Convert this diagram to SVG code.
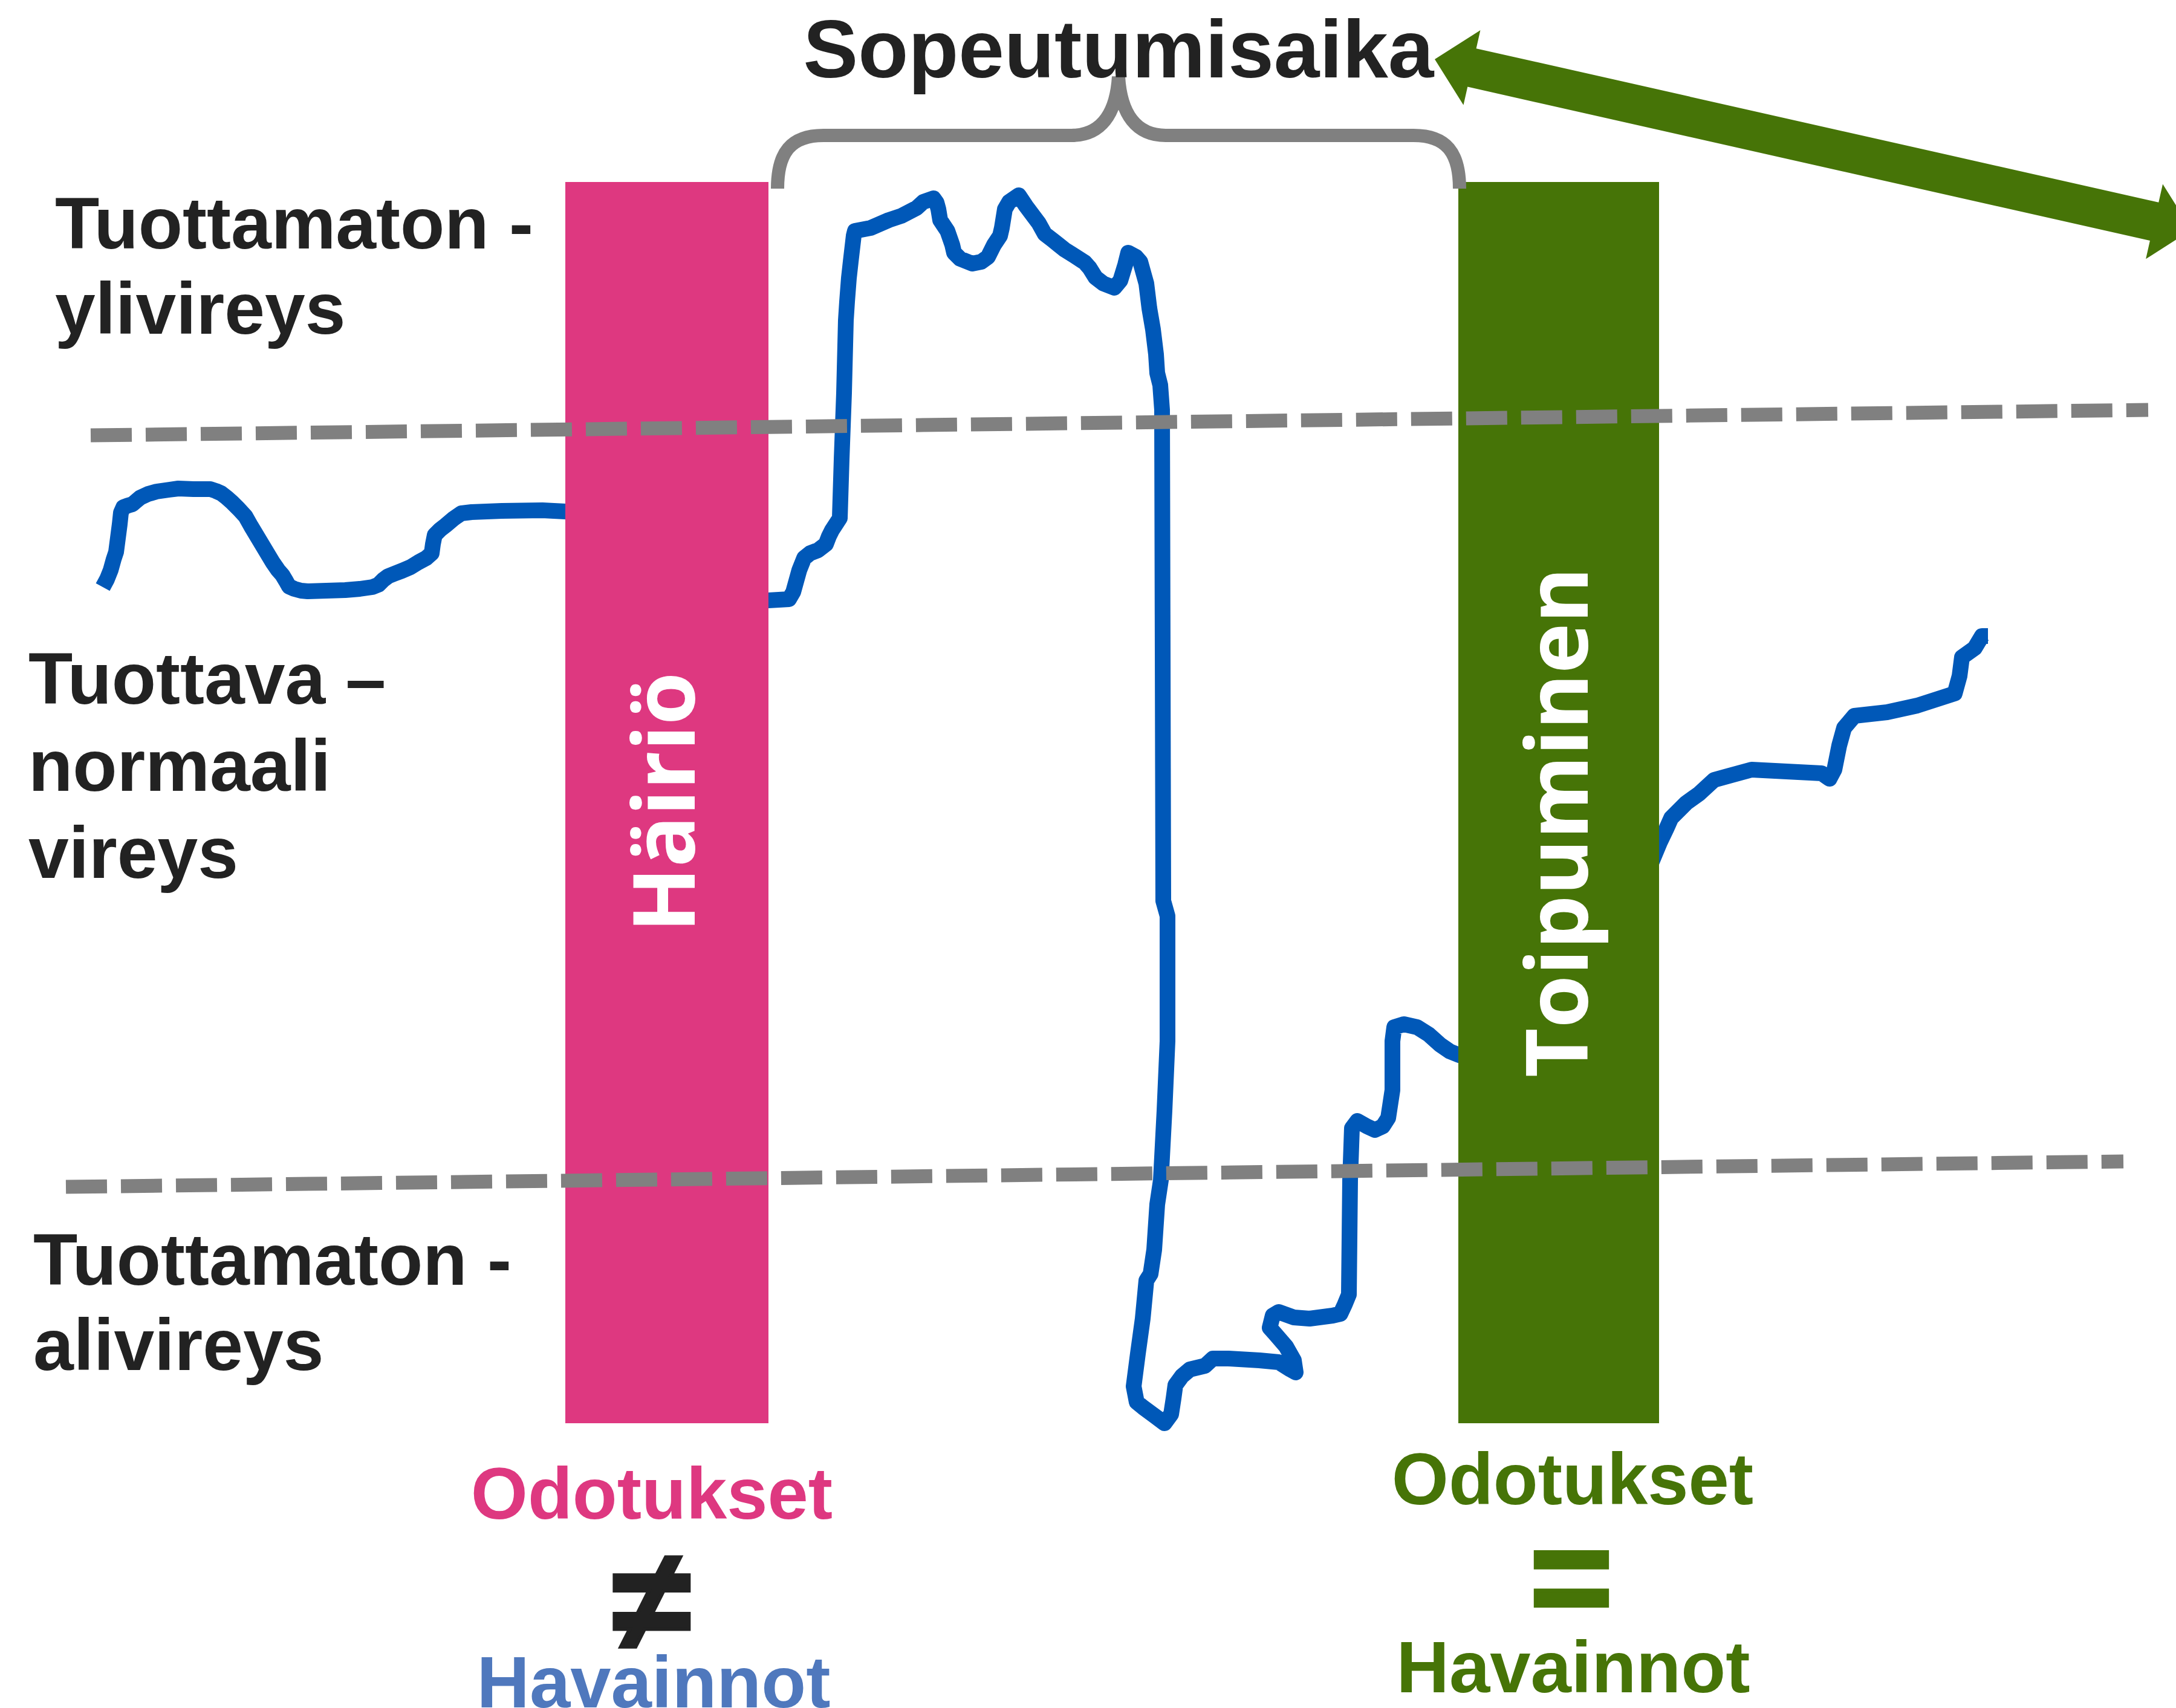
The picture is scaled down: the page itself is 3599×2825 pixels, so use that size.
<svg xmlns="http://www.w3.org/2000/svg" width="3599" height="2825" viewBox="0 0 3599 2825">
<style>
  .lbl{font-family:"Liberation Sans",Arial,sans-serif;font-weight:bold;font-size:120px;fill:#222222}
  .bartxt{font-family:"Open Sans","Liberation Sans",sans-serif;font-weight:bold;font-size:141px;fill:#ffffff;text-anchor:middle}
  .bot{font-family:"Liberation Sans",Arial,sans-serif;font-weight:bold;font-size:121px;text-anchor:middle}
  .sym{font-family:"Liberation Sans",Arial,sans-serif;font-weight:bold;font-size:236px;text-anchor:middle;stroke-width:6}
  .blue{fill:none;stroke:#0058B8;stroke-width:26;stroke-linejoin:round;stroke-linecap:butt}
  .dash{fill:none;stroke:#808080;stroke-width:23;stroke-dasharray:68 23}
</style>
<rect width="3599" height="2825" fill="#ffffff"/>

<g id="curve">
  <polyline class="blue" points="170,971 177,958 183,943 188,925 192,913 195,890 198,867 200,848 204,839 212,836 219,834 226,828 232,823 245,817 259,813 280,810 295,808 320,809 348,809 357,812 366,816 375,823 384,831 395,842 406,854 415,870 424,885 433,900 442,915 451,930 460,943 467,951 473,961 478,970 487,974 498,977 509,978 540,977 571,976 595,974 616,971 626,967 634,959 642,953 652,949 665,944 679,938 692,930 705,923 714,915 716,900 719,885 728,876 737,869 750,858 763,849 780,847 830,845 897,844 935,846 965,849"/>
  <polyline class="blue" points="1240,994 1271,993 1305,991 1312,979 1322,943 1330,923 1340,915 1353,910 1366,900 1371,887 1376,877 1389,857 1392,760 1396,650 1399,530 1401,499 1404,460 1407,433 1412,390 1414,382 1440,377 1470,364 1491,357 1516,344 1527,334 1544,328 1549,335 1552,346 1555,364 1567,382 1575,405 1578,418 1588,428 1608,436 1623,433 1634,425 1644,405 1654,390 1657,377 1662,346 1669,334 1685,323 1697,341 1718,369 1728,387 1741,397 1751,405 1761,413 1777,423 1794,434 1802,443 1812,459 1825,469 1843,476 1853,464 1861,438 1866,418 1879,425 1886,433 1896,469 1901,510 1907,545 1912,586 1914,617 1919,637 1922,678 1923,1080 1924,1490 1931,1515 1931,1722 1926,1837 1920,1952 1914,1992 1909,2067 1903,2107 1896,2118 1890,2181 1882,2239 1875,2293 1880,2319 1891,2328 1910,2342 1926,2354 1937,2339 1941,2313 1944,2291 1955,2276 1968,2265 1993,2259 2006,2247 2032,2247 2083,2250 2115,2253 2134,2265 2143,2270 2140,2250 2127,2227 2108,2205 2100,2196 2105,2176 2115,2170 2140,2179 2166,2181 2204,2176 2217,2173 2224,2158 2231,2141 2233,1952 2236,1866 2245,1854 2261,1863 2274,1869 2287,1863 2296,1849 2303,1803 2303,1722 2306,1699 2322,1694 2344,1699 2363,1711 2382,1728 2398,1739 2413,1745 2445,1752"/>
  <polyline class="blue" points="2730,1430 2745,1394 2756,1371 2764,1353 2789,1328 2810,1313 2835,1290 2864,1282 2897,1273 3013,1279 3026,1288 3034,1273 3042,1233 3050,1204 3067,1184 3121,1178 3171,1167 3233,1147 3241,1118 3245,1087 3266,1072 3278,1052 3288,1052"/>
</g>

<g id="node-hairio">
  <rect x="935" y="301" width="336" height="2053" fill="#DE3880"/>
  <text class="bartxt" transform="translate(1149 1327) rotate(-90)">Häiriö</text>
</g>
<g id="node-toipuminen">
  <rect x="2412" y="301" width="332" height="2053" fill="#467407"/>
  <text class="bartxt" transform="translate(2626 1360) rotate(-90)">Toipuminen</text>
</g>

<g id="thresholds">
  <line class="dash" x1="150" y1="720" x2="3553" y2="678"/>
  <line class="dash" x1="109" y1="1963" x2="3512" y2="1921"/>
</g>

<g id="connectors">
  <path id="brace" d="M1286 312 C1286 252 1308 224 1362 224 L1772 224 C1820 224 1846 190 1850 127 C1854 190 1880 224 1928 224 L2338 224 C2392 224 2414 252 2414 312" fill="none" stroke="#808080" stroke-width="22"/>
  <polygon id="arrow" transform="translate(2373 98) rotate(12.71)" points="0,0 63,-63.5 63,-32.5 1220,-32.5 1220,-63.5 1283,0 1220,63.5 1220,32.5 63,32.5 63,63.5" fill="#467407"/>
</g>

<g id="node-title">
  <text x="1850" y="128" font-family="Liberation Sans, Arial, sans-serif" font-weight="bold" font-size="136" fill="#222222" text-anchor="middle">Sopeutumisaika</text>
</g>

<g id="node-yli">
  <text class="lbl" x="91" y="411">Tuottamaton -</text>
  <text class="lbl" x="91" y="552">ylivireys</text>
</g>
<g id="node-normaali">
  <text class="lbl" x="47" y="1164">Tuottava –</text>
  <text class="lbl" x="47" y="1308">normaali</text>
  <text class="lbl" x="47" y="1452">vireys</text>
</g>
<g id="node-ali">
  <text class="lbl" x="55" y="2125">Tuottamaton -</text>
  <text class="lbl" x="55" y="2266">alivireys</text>
</g>

<g id="node-mismatch">
  <text class="bot" x="1078" y="2512" fill="#DE3880">Odotukset</text>
  <text class="sym" x="1078" y="2728" fill="#222222" stroke="#222222">≠</text>
  <text class="bot" x="1081" y="2824" fill="#4F78BD">Havainnot</text>
</g>
<g id="node-match">
  <text class="bot" x="2601" y="2488" fill="#467407">Odotukset</text>
  <text class="sym" x="2599" y="2690" fill="#467407" stroke="#467407">=</text>
  <text class="bot" x="2602" y="2799" fill="#467407">Havainnot</text>
</g>
</svg>
